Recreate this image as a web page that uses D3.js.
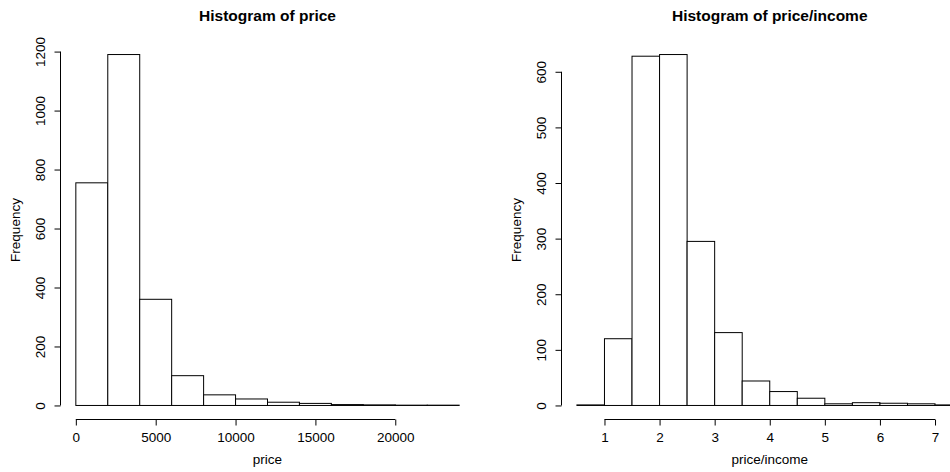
<!DOCTYPE html>
<html>
<head>
<meta charset="utf-8">
<script src="https://cdn.jsdelivr.net/npm/d3@7"></script>
<style>
  body { margin: 0; background: #fff; }
  svg { display: block; font-family: "Liberation Sans", Arial, Helvetica, sans-serif; }
</style>
</head>
<body>
<svg id="chart" width="950" height="472"></svg>
<script>
// histogram of price
var priceBreaks = [0, 2000, 4000, 6000, 8000, 10000, 12000, 14000, 16000, 18000, 20000, 22000, 24000];
var priceCounts = [755, 1190, 360, 101, 36, 22, 11, 7, 3, 2, 1, 1];
var priceXTicks = [0, 5000, 10000, 15000, 20000];
var priceYTicks = [0, 200, 400, 600, 800, 1000, 1200];

// histogram of price/income
var ratioBreaks = [0.5, 1, 1.5, 2, 2.5, 3, 3.5, 4, 4.5, 5, 5.5, 6, 6.5, 7, 7.5];
var ratioCounts = [1, 120, 628, 631, 295, 131, 44, 25, 13, 3, 5, 4, 3, 1];
var ratioXTicks = [1, 2, 3, 4, 5, 6, 7];
var ratioYTicks = [0, 100, 200, 300, 400, 500, 600];

var svg = d3.select("#chart");

function histPanel(opt) {
    var g = svg.append("g");
    var lo = opt.breaks[0], hi = opt.breaks[opt.breaks.length - 1];
    var ymax = d3.max(opt.counts);
    // R style 4% extension of the data range
    var dx = (hi - lo) * 0.04, dy = ymax * 0.04;

    var x = d3.scaleLinear().domain([lo - dx, hi + dx]).range([opt.left, opt.right]);
    var y = d3.scaleLinear().domain([-dy, ymax + dy]).range([opt.bottom, opt.top]);

    var bins = opt.counts.map(function (c, i) {
        return {x0: opt.breaks[i], x1: opt.breaks[i + 1], n: c};
    });

    g.selectAll("rect.bar")
        .data(bins)
        .enter().append("rect")
        .attr("class", "bar")
        .attr("x", function (d) { return x(d.x0); })
        .attr("y", function (d) { return y(d.n); })
        .attr("width", function (d) { return x(d.x1) - x(d.x0); })
        .attr("height", function (d) { return y(0) - y(d.n); })
        .attr("fill", "#fff")
        .attr("stroke", "#000")
        .attr("stroke-width", 1);

    var xAxis = d3.axisBottom(x)
        .tickValues(opt.xTicks)
        .tickSize(6)
        .tickSizeOuter(0)
        .tickFormat(d3.format("d"));
    var gx = g.append("g")
        .attr("transform", "translate(0," + opt.bottom + ")")
        .call(xAxis);
    // axis line only spans first to last tick, like R
    gx.select(".domain")
        .attr("d", "M" + x(opt.xTicks[0]) + ",0H" + x(opt.xTicks[opt.xTicks.length - 1]));
    gx.selectAll("text")
        .attr("font-size", 13.5)
        .attr("fill", "#000")
        .attr("dy", null)
        .attr("y", 22.5);

    var yAxis = d3.axisLeft(y)
        .tickValues(opt.yTicks)
        .tickSize(6)
        .tickSizeOuter(0)
        .tickFormat(d3.format("d"));
    var gy = g.append("g")
        .attr("transform", "translate(" + opt.left + ",0)")
        .call(yAxis);
    gy.select(".domain")
        .attr("d", "M0," + y(opt.yTicks[0]) + "V" + y(opt.yTicks[opt.yTicks.length - 1]));
    gy.selectAll("text")
        .attr("font-size", 13.5)
        .attr("fill", "#000")
        .attr("x", null)
        .attr("dy", null)
        .attr("text-anchor", "middle")
        .attr("transform", "translate(-16,0) rotate(-90)");

    g.selectAll(".domain, .tick line").attr("stroke", "#000");
    g.selectAll(".tick text").attr("font-family", null);

    var cx = (opt.left + opt.right) / 2;
    g.append("text")
        .attr("x", cx)
        .attr("y", 20.5)
        .attr("text-anchor", "middle")
        .attr("font-size", 15.5)
        .attr("font-weight", "bold")
        .text(opt.title);

    g.append("text")
        .attr("x", cx)
        .attr("y", 464)
        .attr("text-anchor", "middle")
        .attr("font-size", 13.5)
        .text(opt.xlab);

    g.append("text")
        .attr("transform", "translate(" + (opt.left - 40.5) + "," + ((opt.top + opt.bottom) / 2) + ") rotate(-90)")
        .attr("text-anchor", "middle")
        .attr("font-size", 13.5)
        .text("Frequency");
}

histPanel({
    breaks: priceBreaks, counts: priceCounts,
    xTicks: priceXTicks, yTicks: priceYTicks,
    left: 60.5, right: 474.5, top: 40.5, bottom: 419.5,
    title: "Histogram of price", xlab: "price"
});

histPanel({
    breaks: ratioBreaks, counts: ratioCounts,
    xTicks: ratioXTicks, yTicks: ratioYTicks,
    left: 561.5, right: 978, top: 40.5, bottom: 419.5,
    title: "Histogram of price/income", xlab: "price/income"
});
</script>
</body>
</html>
